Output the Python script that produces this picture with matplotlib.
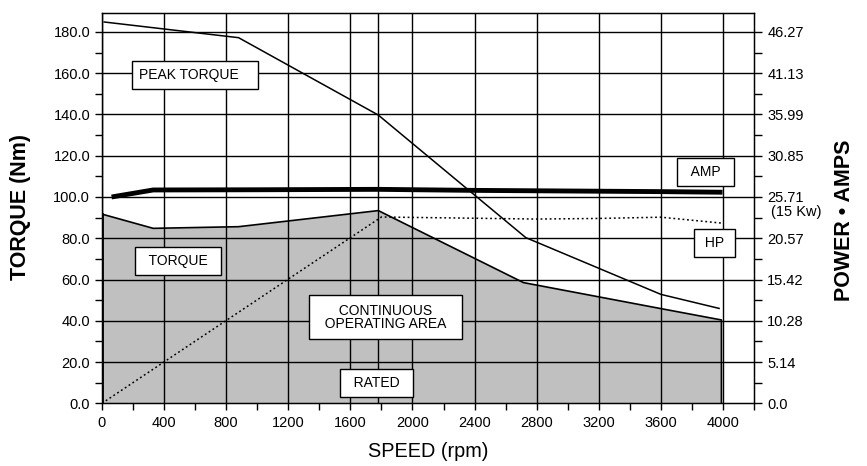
import numpy as np
import matplotlib.pyplot as plt
from matplotlib.ticker import FixedLocator, MultipleLocator

plt.rcParams['font.family'] = ['Liberation Sans', 'DejaVu Sans']

# curve data (torque in Nm)
peak_rpm = [15, 880, 1780, 2730, 3600, 3975]
peak_torque = [184.8, 177.2, 139.7, 80.3, 52.8, 46.0]

cont_rpm = [0, 330, 880, 1780, 2715, 3600, 3990, 3990]
cont_torque = [91.7, 84.8, 85.6, 93.4, 58.5, 45.9, 40.4, 0.0]

amp_rpm = [62, 330, 1000, 1780, 2400, 3000, 3600, 3997]
amp_level = [100.0, 103.4, 103.5, 103.7, 103.2, 102.9, 102.6, 102.3]

hp_rpm = [0, 1800, 2400, 2800, 3200, 3600, 3997]
hp_level = [0.0, 90.3, 89.7, 89.3, 89.6, 90.2, 87.3]

rated_rpm = 1780
right_scale = 46.27 / 180.0
right_ticks = ['0.0', '5.14', '10.28', '15.42', '20.57', '25.71', '30.85', '35.99', '41.13', '46.27']

fig = plt.figure(figsize=(8.67, 4.66), dpi=100)
ax = fig.add_axes([0.1176, 0.1345, 0.7521, 0.8382])

ax.set_xlim(0, 4200)
ax.set_ylim(0, 189.3)

# continuous operating area
ax.fill_between(cont_rpm, cont_torque, 0, color='#c0c0c0', lw=0, zorder=1)
ax.plot(cont_rpm, cont_torque, color='black', lw=1.2, zorder=3)
ax.plot([0, 0], [0, cont_torque[0]], color='black', lw=2, zorder=3)

# grid
for x in range(0, 4001, 400):
    ax.axvline(x, color='black', lw=1, zorder=2)
ax.axvline(rated_rpm, color='black', lw=1, zorder=2)
for y in range(20, 181, 20):
    ax.axhline(y, color='black', lw=1, zorder=2)

ax.plot(peak_rpm, peak_torque, color='black', lw=1.1, zorder=4)
ax.plot(amp_rpm, amp_level, color='black', lw=3.5, zorder=4, solid_capstyle='butt')
ax.plot(hp_rpm, hp_level, color='black', lw=1.1, ls=(0, (1.2, 1.8)), zorder=4)

ax.set_xticks(range(0, 4001, 400))
ax.xaxis.set_minor_locator(FixedLocator(list(range(200, 4201, 400))))
ax.set_yticks(range(0, 181, 20))
ax.set_yticklabels(['%.1f' % v for v in range(0, 181, 20)])
ax.yaxis.set_minor_locator(MultipleLocator(10))
ax.tick_params(axis='both', which='both', direction='out', length=5, width=1, labelsize=10.5)
ax.tick_params(axis='x', pad=4)
for s in ax.spines.values():
    s.set_linewidth(1)

ax.set_xlabel('SPEED (rpm)', fontsize=14.3, labelpad=9)
fig.text(21 / 867, 1 - 207 / 466, 'TORQUE (Nm)', rotation=90, fontsize=15.5, fontweight='bold',
         ha='center', va='center')

ax2 = ax.twinx()
ax2.set_position(ax.get_position())
ax2.set_ylim(0, 189.3 * right_scale)
ax2.set_yticks([float(t) for t in right_ticks])
ax2.set_yticklabels(right_ticks)
ax2.yaxis.set_minor_locator(FixedLocator([(i + 0.5) * 5.14 for i in range(9)]))
ax2.tick_params(axis='y', which='both', direction='out', length=6, width=1, labelsize=10.5)
fig.text(845 / 867, 1 - 220 / 466, 'POWER \u2022 AMPS', rotation=90, fontsize=15.5, fontweight='bold',
         ha='center', va='center')
ax2.text(1.026, 92.6 / 189.3, '(15 Kw)', transform=ax.transAxes, fontsize=10.5, va='center', ha='left')

box = dict(boxstyle='square,pad=0.5', fc='white', ec='black', lw=1)
sp = ' \u2009'
ax.text(600, 159.3, 'PEAK TORQUE   ', ha='center', va='center', fontsize=10, bbox=box, zorder=6)
ax.text(488, 69, sp + 'TORQUE' + sp, ha='center', va='center', fontsize=10, bbox=box, zorder=6)
ax.text(1825, 41.7, '  CONTINUOUS  \n  OPERATING AREA  ', ha='center', va='center', fontsize=10,
        linespacing=0.95, bbox=dict(boxstyle='square,pad=0.6', fc='white', ec='black', lw=1), zorder=6)
ax.text(1771, 9.7, sp + 'RATED' + sp, ha='center', va='center', fontsize=10, bbox=box, zorder=6)
ax.text(3887, 112, sp + 'AMP' + sp, ha='center', va='center', fontsize=10, bbox=box, zorder=6)
ax.text(3947, 77.7, ' HP ', ha='center', va='center', fontsize=10, bbox=box, zorder=6)

fig.savefig('out.png', dpi=100)
